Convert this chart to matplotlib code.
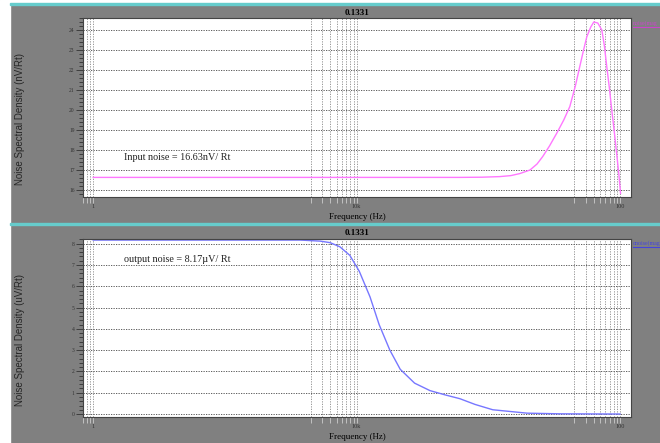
import matplotlib
matplotlib.use("Agg")
import matplotlib.pyplot as plt
from matplotlib.patches import Rectangle
from matplotlib.lines import Line2D
from matplotlib.ticker import FixedLocator, NullFormatter, MultipleLocator

# ---------------- data ----------------
title_text = "0.1331"
xlabel_text = "Frequency (Hz)"
ylabel_top = "Noise Spectral Density (nV/Rt)"
ylabel_bot = "Noise Spectral Density (uV/Rt)"
legend_top = "noise(mag"
legend_bot = "onoise(mag"
note_top = "Input noise = 16.63nV/ Rt"
note_bot = "output noise = 8.17\u00b5V/ Rt"

x_major = [1, 1e4, 1e8]
x_major_labels = ["1", "10k", "100"]
x_minor = [0.7, 0.8, 0.9,
           2e3, 3e3, 4e3, 5e3, 6e3, 7e3, 8e3, 9e3,
           2e7, 3e7, 4e7, 5e7, 6e7, 7e7, 8e7, 9e7]

freq_in = [1, 1e3, 1e5, 3.7e5, 8e5, 1.5e6, 2.2e6, 3.0e6, 4.3e6, 5.5e6, 6.7e6,
           8.5e6, 1.1e7, 1.4e7, 1.73e7, 2.1e7, 2.45e7, 2.8e7, 3.14e7, 3.6e7,
           4.0e7, 4.6e7, 5.3e7, 5.8e7, 6.3e7, 6.9e7, 7.5e7, 8.2e7, 8.9e7, 9.6e7, 1.02e8]
in_noise = [16.63, 16.63, 16.63, 16.63, 16.64, 16.67, 16.72, 16.82, 17.0, 17.3, 17.67,
            18.2, 18.85, 19.5, 20.17, 21.2, 22.17, 23.0, 23.67, 24.15,
            24.4, 24.35, 24.0, 23.2, 22.17, 21.1, 20.0, 18.9, 17.83, 16.8, 15.83]

freq_out = [1, 1e3, 1.4e3, 2.8e3, 3.96e3, 5.6e3, 7.9e3, 1.1e4, 1.6e4, 2.2e4,
            3.2e4, 4.6e4, 7.6e4, 1.3e5, 2.2e5, 3.7e5, 6.3e5, 1.17e6, 3.9e6, 1.2e7, 1e8]
out_noise = [8.17, 8.17, 8.17, 8.12, 8.05, 7.85, 7.45, 6.7, 5.5, 4.2,
             3.0, 2.1, 1.45, 1.1, 0.9, 0.72, 0.45, 0.2, 0.04, 0.01, 0.0]

# ---------------- figure ----------------
W, H = 660, 443
fig = plt.figure(figsize=(W / 100, H / 100), dpi=100)
fig.patch.set_facecolor("#808080")
serif = ["Liberation Serif", "DejaVu Serif"]
sans = ["Liberation Sans", "DejaVu Sans"]

def px(x0, y0, w, h):
    return [x0 / W, 1 - (y0 + h) / H, w / W, h / H]

def fy(y):
    return 1 - y / H

# frame decorations
fig.add_artist(Rectangle((0, 0), 10 / W, 1, transform=fig.transFigure, color="white", zorder=0))
fig.add_artist(Rectangle((0, 1 - 3 / H), 1, 3 / H, transform=fig.transFigure, color="white", zorder=0))
fig.add_artist(Rectangle((10 / W, 1 - 5 / H), 1, 2 / H, transform=fig.transFigure, color="#66cccc", zorder=1))
fig.add_artist(Rectangle((10 / W, 1 - 225 / H), 1, 2 / H, transform=fig.transFigure, color="#66cccc", zorder=1))

def setup(ax, ylim, yticks):
    ax.set_facecolor("white")
    ax.set_xscale("log")
    ax.set_xlim(0.70, 1.47e8)
    ax.set_ylim(*ylim)
    ax.xaxis.set_major_locator(FixedLocator(x_major))
    ax.set_xticklabels(x_major_labels, fontsize=4.5, family=serif)
    ax.xaxis.set_minor_locator(FixedLocator(x_minor))
    ax.xaxis.set_minor_formatter(NullFormatter())
    ax.set_yticks(yticks)
    ax.set_yticklabels([str(v) for v in yticks], fontsize=4, family=serif)
    ax.yaxis.set_minor_locator(MultipleLocator(0.2))
    ax.tick_params(axis="both", which="both", direction="out", colors="#333333",
                   width=0.6, pad=1)
    ax.tick_params(axis="y", which="major", length=5)
    ax.tick_params(axis="y", which="minor", length=3)
    ax.tick_params(axis="x", which="both", length=4, color="#cccccc")
    ax.grid(True, which="major", axis="y", linestyle=(0, (1.5, 1.5)), color="#444444", linewidth=0.6)
    ax.grid(True, which="both", axis="x", linestyle=(0, (1.5, 1.5)), color="#888888", linewidth=0.6)
    for s in ax.spines.values():
        s.set_color("#444444")
        s.set_linewidth(0.8)
    ax.set_xlabel(xlabel_text, fontsize=6.5, family=serif, labelpad=3)

def legend_label(text, y, color):
    t = fig.text(633 / W, fy(y), text, fontsize=4.2, family=serif, va="center", color=color)
    fig.add_artist(Line2D([633 / W, 1.0], [fy(y + 3.5), fy(y + 3.5)], transform=fig.transFigure,
                          color=color, linewidth=0.8))
    return t

# top panel
ax1 = fig.add_axes(px(83, 18, 548, 179))
setup(ax1, (15.65, 24.6), list(range(16, 25)))
ax1.plot(freq_in, in_noise, color="#ff77ff", linewidth=1.0)
ax1.set_title(title_text, fontsize=6.5, family=serif, fontweight="bold", pad=2)
fig.text(20 / W, fy(119), ylabel_top, fontsize=7, family=sans, rotation=90,
         ha="center", va="center", color="#262626")
fig.text(124 / W, fy(158), note_top, fontsize=7.3, family=serif, va="center", color="#222222")
legend_label(legend_top, 23, "#cc44cc")

# bottom panel
ax2 = fig.add_axes(px(83, 239, 548, 178))
setup(ax2, (-0.14, 8.22), list(range(0, 9)))
ax2.plot(freq_out, out_noise, color="#7777ff", linewidth=1.0)
ax2.set_title(title_text, fontsize=6.5, family=serif, fontweight="bold", pad=3)
fig.text(20 / W, fy(340), ylabel_bot, fontsize=7, family=sans, rotation=90,
         ha="center", va="center", color="#262626")
fig.text(124 / W, fy(259), note_bot, fontsize=7.3, family=serif, va="center", color="#222222")
legend_label(legend_bot, 243, "#4444dd")

fig.savefig("out.png", dpi=100, facecolor=fig.get_facecolor())
